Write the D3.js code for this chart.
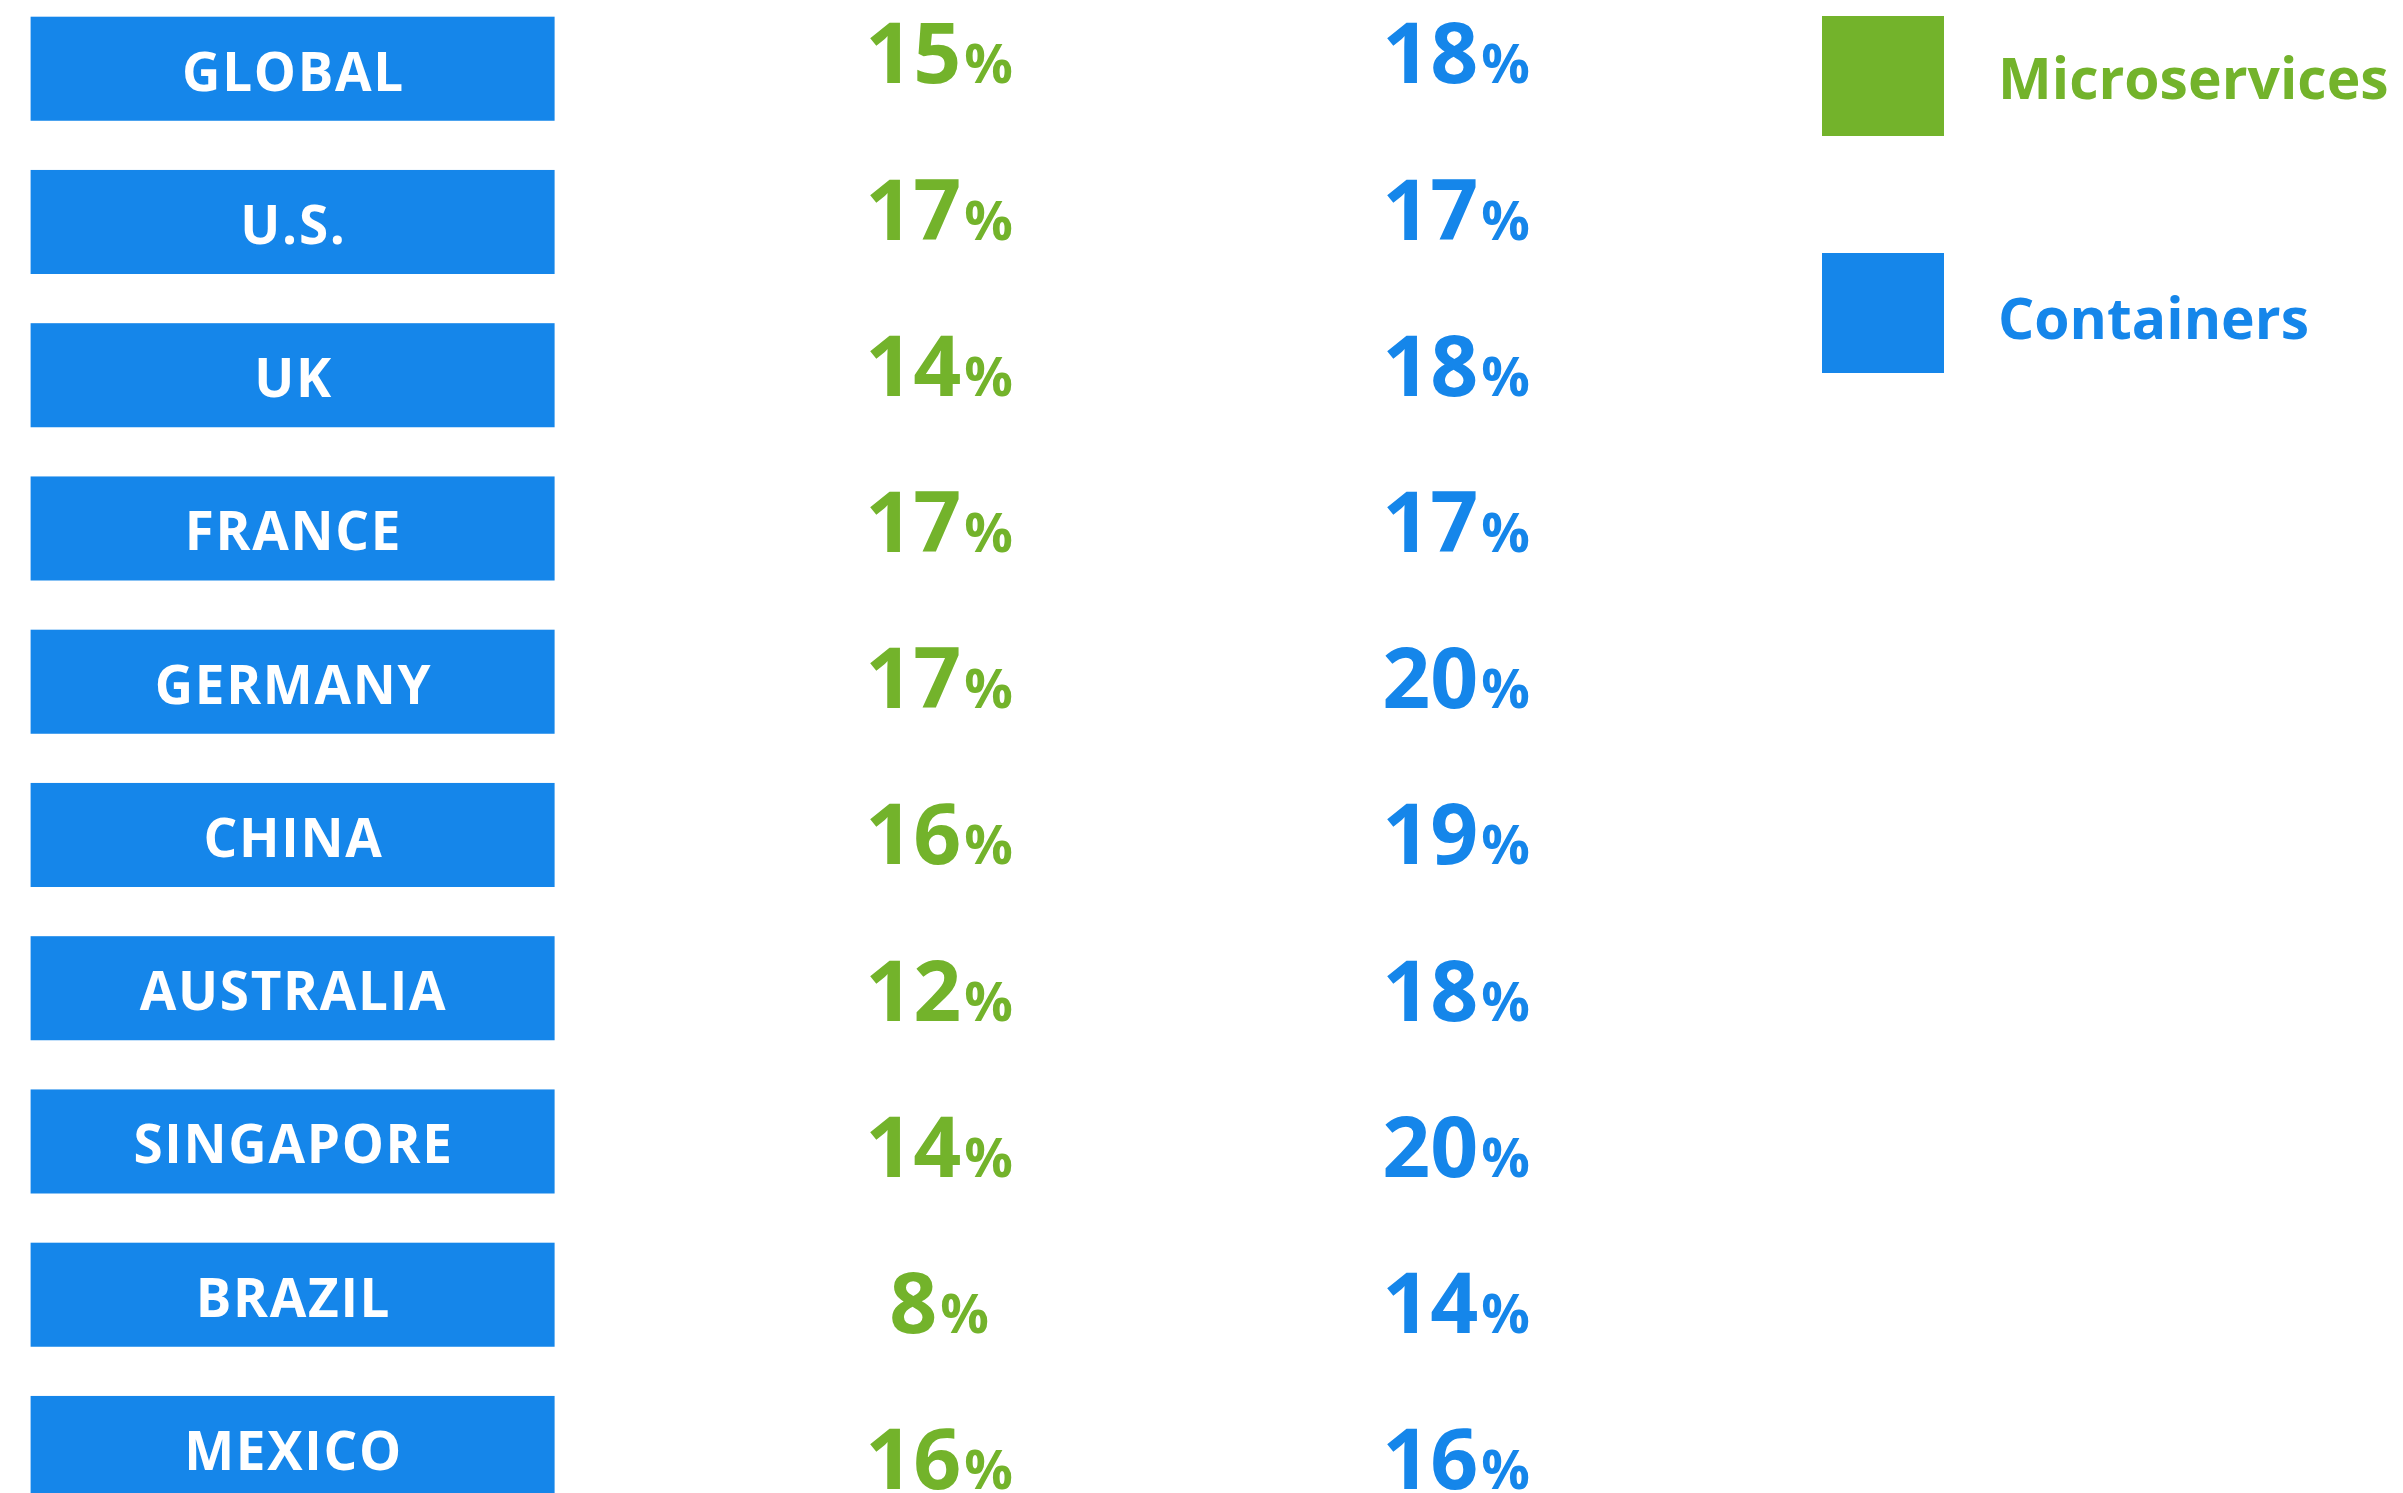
<!DOCTYPE html>
<html>
<head>
<meta charset="utf-8">
<script src="https://cdn.jsdelivr.net/npm/d3@7"></script>
<style>
html,body{margin:0;padding:0;background:#fff;overflow:hidden;}
svg{display:block;}
text{font-family:"Open Sans",sans-serif;font-weight:700;}
</style>
</head>
<body>
<svg id="chart" width="2403" height="1493"></svg>
<script>
const countries = ["GLOBAL","U.S.","UK","FRANCE","GERMANY","CHINA","AUSTRALIA","SINGAPORE","BRAZIL","MEXICO"];
const microservices = [15,17,14,17,17,16,12,14,8,16];
const containers = [18,17,18,17,20,19,18,20,14,16];
const seriesNames = ["Microservices","Containers"];
const seriesColors = ["#73b32b","#1586ea"];

const svg = d3.select("#chart");

// Row scales: label boxes and value baselines
const y = d3.scaleBand().domain(countries).range([16.7, 1500]).paddingInner(0.321).paddingOuter(0);
const yVal = d3.scalePoint().domain(countries).range([83.3, 1489.1]);
const x = d3.scalePoint().domain(seriesNames).range([939, 1456]);
const color = d3.scaleOrdinal().domain(seriesNames).range(seriesColors);

const rows = countries.map((c,i)=>({country:c, values:[
  {series:"Microservices", v:microservices[i]},
  {series:"Containers", v:containers[i]}
]}));

const g = svg.append("g");
g.selectAll("rect.lab").data(rows).join("rect")
  .attr("class","lab")
  .attr("x",30.6).attr("width",524)
  .attr("y",d=>y(d.country)).attr("height",y.bandwidth())
  .attr("fill",seriesColors[1]);

g.selectAll("text.lab").data(rows).join("text")
  .attr("class","lab")
  .attr("x",293.5)
  .attr("y",d=>y(d.country)+74)
  .attr("text-anchor","middle")
  .attr("fill","#fff")
  .attr("font-size",53)
  .attr("letter-spacing",1.7)
  .text(d=>d.country);

// Values
const cells = g.selectAll("g.row").data(rows).join("g").attr("class","row")
  .selectAll("text.val").data(d=>d.values.map(v=>({...v,country:d.country}))).join("text")
  .attr("class","val")
  .attr("x",d=>x(d.series))
  .attr("y",d=>yVal(d.country))
  .attr("text-anchor","middle")
  .attr("fill",d=>color(d.series));
cells.append("tspan").attr("font-size",84).text(d=>d.v);
cells.append("tspan").attr("font-size",54).attr("dx",3).text("%");

// Legend
const legRectY = d3.scalePoint().domain(seriesNames).range([16, 253]);
const legTextY = d3.scalePoint().domain(seriesNames).range([99, 339]);
const leg = svg.append("g").selectAll("g").data(seriesNames).join("g");
leg.append("rect").attr("x",1822).attr("y",d=>legRectY(d))
  .attr("width",122).attr("height",120).attr("fill",d=>color(d));
leg.append("text").attr("x",1998).attr("y",d=>legTextY(d)).attr("font-size",57)
  .attr("fill",d=>color(d)).text(d=>d);
</script>
</body>
</html>
